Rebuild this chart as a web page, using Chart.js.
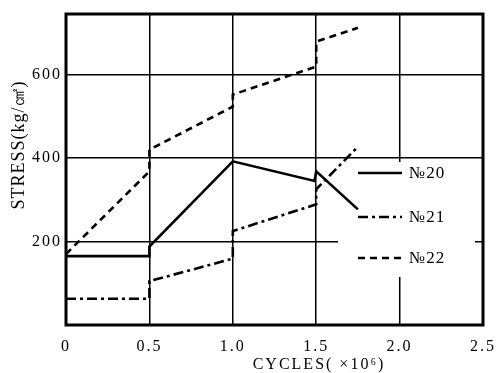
<!DOCTYPE html>
<html>
<head>
<meta charset="utf-8">
<script src="https://cdn.jsdelivr.net/npm/chart.js@4.4.0/dist/chart.umd.min.js"></script>
<style>
    body { margin: 0; background: #fff; }
    #wrap { width: 497px; height: 373px; }
</style>
</head>
<body>
<div id="wrap"><canvas id="stress" width="497" height="373"></canvas></div>
<script>
    // values (cycles x10^6, stress kg/cm2)
    var xTicks = [0, 0.5, 1.0, 1.5, 2.0, 2.5];
    var yTicks = [200, 400, 600];

    var cycles20 = [0, 0.5, 0.5, 1.0, 1.49, 1.5, 1.75];
    var stress20 = [165, 165, 188, 392, 345, 368, 277];

    var cycles21 = [0, 0.5, 0.5, 1.0, 1.0, 1.5, 1.5, 1.75];
    var stress21 = [63, 63, 105, 159, 225, 289, 325, 427];

    var cycles22 = [0, 0.5, 0.5, 1.0, 1.0, 1.5, 1.5, 1.75];
    var stress22 = [170, 368, 420, 523, 552, 619, 679, 712];

    var names = ['№20', '№21', '№22'];
    var dashes = [[], [10, 4, 3, 4], [7, 5]];

    var serif = '"Liberation Serif", "DejaVu Serif", serif';

    var toPoints = function (xs, ys) {
        return xs.map(function (x, i) { return { x: x, y: ys[i] }; });
    }

    var series = [
        toPoints(cycles20, stress20),
        toPoints(cycles21, stress21),
        toPoints(cycles22, stress22)
    ];

    // blank the grid behind the legend, then frame, legend and axis titles
    var paperPlugin = {
        id: 'paper',
        beforeDraw: function (chart) {
            // the printed labels are widely spaced
            chart.ctx.letterSpacing = '2px';
        },
        beforeDatasetsDraw: function (chart) {
            var ctx = chart.ctx;
            ctx.save();
            ctx.fillStyle = '#fff';
            ctx.fillRect(338, 162, 137, 115);
            ctx.restore();
        },
        afterDatasetsDraw: function (chart) {
            var ctx = chart.ctx;
            var a = chart.chartArea;
            ctx.save();
            ctx.strokeStyle = '#000';
            ctx.lineWidth = 3;
            ctx.strokeRect(a.left, a.top, a.right - a.left, a.bottom - a.top);

            // legend
            var rows = [173, 217, 258];
            ctx.lineWidth = 2.5;
            ctx.font = '17px ' + serif;
            ctx.letterSpacing = '1px';
            ctx.fillStyle = '#000';
            ctx.textBaseline = 'middle';
            for (var i = 0; i < rows.length; i++) {
                ctx.setLineDash(dashes[i]);
                ctx.beginPath();
                ctx.moveTo(358, rows[i]);
                ctx.lineTo(402, rows[i]);
                ctx.stroke();
                ctx.setLineDash([]);
                ctx.fillText(names[i], 409, rows[i] + 1);
            }

            // axis titles
            ctx.textAlign = 'center';
            ctx.font = '16px ' + serif;
            ctx.letterSpacing = '2px';
            ctx.fillText('CYCLES( ×10⁶)', 319, 365);
            ctx.translate(19, 145);
            ctx.rotate(-Math.PI / 2);
            ctx.font = '18px ' + serif;
            ctx.letterSpacing = '1px';
            ctx.fillText('STRESS(kg/㎠)', 0, 0);
            ctx.restore();
        }
    };

    var lineSet = function (i) {
        return {
            label: names[i],
            data: series[i],
            borderColor: '#000',
            borderWidth: 2.6,
            borderDash: dashes[i],
            pointRadius: 0,
            tension: 0,
            fill: false
        };
    }

    new Chart('stress', {
        type: 'line',
        data: {
            datasets: [lineSet(0), lineSet(1), lineSet(2)]
        },
        options: {
            responsive: false,
            devicePixelRatio: 1,
            animation: false,
            layout: { padding: { top: 14, right: 14, left: 0, bottom: 0 } },
            plugins: {
                legend: false,
                tooltip: false
            },
            scales: {
                x: {
                    type: 'linear',
                    min: 0,
                    max: 2.5,
                    afterBuildTicks: function (s) {
                        s.ticks = xTicks.map(function (v) { return { value: v }; });
                    },
                    afterFit: function (s) {
                        s.height = 48;
                        s.paddingLeft = 0;
                        s.paddingRight = 0;
                    },
                    grid: { color: '#000', lineWidth: 1.5, drawTicks: false },
                    border: { display: false },
                    ticks: {
                        color: '#000',
                        padding: 12,
                        maxRotation: 0,
                        font: { family: serif, size: 16 },
                        callback: function (v) { return v === 0 ? '0' : v.toFixed(1); }
                    }
                },
                y: {
                    min: 0,
                    max: 745,
                    afterBuildTicks: function (s) {
                        s.ticks = yTicks.map(function (v) { return { value: v }; });
                    },
                    afterFit: function (s) {
                        s.width = 66;
                        s.paddingTop = 0;
                        s.paddingBottom = 0;
                    },
                    grid: { color: '#000', lineWidth: 1.5, drawTicks: false },
                    border: { display: false },
                    ticks: {
                        color: '#000',
                        padding: 4,
                        font: { family: serif, size: 16 }
                    }
                }
            }
        },
        plugins: [paperPlugin]
    });
</script>
</body>
</html>
